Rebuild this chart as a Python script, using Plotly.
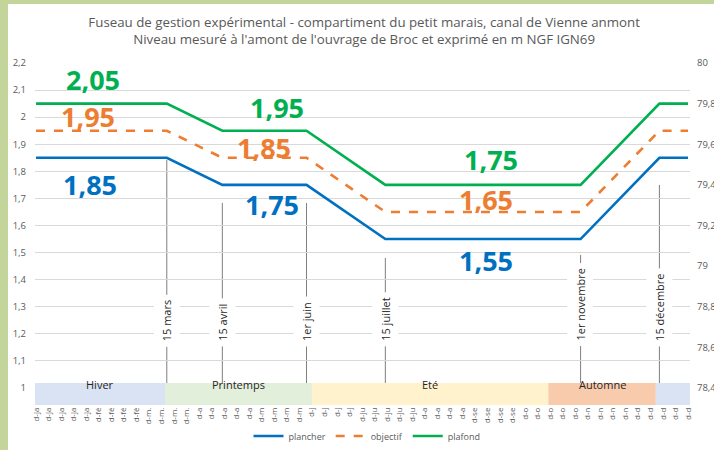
import plotly.graph_objects as go
import pandas as pd

# ---- data -------------------------------------------------------------
dates = ["2021-01-01", "2021-03-15", "2021-04-15", "2021-06-01",
         "2021-07-15", "2021-11-01", "2021-12-15", "2021-12-31"]
plafond = [2.05, 2.05, 1.95, 1.95, 1.75, 1.75, 2.05, 2.05]
objectif = [1.95, 1.95, 1.85, 1.85, 1.65, 1.65, 1.95, 1.95]
plancher = [1.85, 1.85, 1.75, 1.75, 1.55, 1.55, 1.85, 1.85]

# transition dates with their callout text
jalons = ["2021-03-15", "2021-04-15", "2021-06-01", "2021-07-15", "2021-11-01", "2021-12-15"]
jalons_txt = ["15 mars", "15 avril", "1er juin", "15 juillet", "1er novembre", "15 décembre"]

# seasons
saisons = ["Hiver", "Printemps", "Eté", "Automne", ""]
saisons_debut = ["2020-12-31 10:00", "2021-03-14", "2021-06-04", "2021-10-14", "2021-12-13"]
saisons_fin = ["2021-03-14", "2021-06-04", "2021-10-14", "2021-12-13", "2022-01-01 02:00"]
saisons_couleur = ["#dae3f3", "#e2efda", "#fff2cc", "#f8cbad", "#dae3f3"]

# weekly category ticks
semaines = ["2021-01-01", "2021-01-08", "2021-01-15", "2021-01-22", "2021-01-29",
            "2021-02-05", "2021-02-12", "2021-02-19", "2021-02-26",
            "2021-03-05", "2021-03-12", "2021-03-19", "2021-03-26",
            "2021-04-02", "2021-04-09", "2021-04-16", "2021-04-23", "2021-04-30",
            "2021-05-07", "2021-05-14", "2021-05-21", "2021-05-28",
            "2021-06-04", "2021-06-11", "2021-06-18", "2021-06-25",
            "2021-07-02", "2021-07-09", "2021-07-16", "2021-07-23", "2021-07-30",
            "2021-08-06", "2021-08-13", "2021-08-20", "2021-08-27",
            "2021-09-03", "2021-09-10", "2021-09-17", "2021-09-24",
            "2021-10-01", "2021-10-08", "2021-10-15", "2021-10-22", "2021-10-29",
            "2021-11-05", "2021-11-12", "2021-11-19", "2021-11-26",
            "2021-12-03", "2021-12-10", "2021-12-17", "2021-12-24", "2021-12-31"]
mois_abr = {"01": "ja", "02": "fé", "03": "m.", "04": "a", "05": "m",
            "06": "j", "07": "ju", "08": "a", "09": "se", "10": "o",
            "11": "n", "12": "d"}
semaines_txt = ["d-" + mois_abr[d[5:7]] for d in semaines]

gauche_ticks = [1.0, 1.1, 1.2, 1.3, 1.4, 1.5, 1.6, 1.7, 1.8, 1.9, 2.0, 2.1, 2.2]
droite_ticks = [78.4, 78.6, 78.8, 79.0, 79.2, 79.4, 79.6, 79.8, 80.0]

# ---- layout geometry (pixels) ----------------------------------------
W, H = 714, 450
L, R, T, B = 35, 690, 63, 405
Y_MIN = 1 - (B - 388) / 270.8
Y_MAX = 2.2
X_RANGE = ["2020-12-31 10:00", "2022-01-01 02:00"]


def fmt(v):
    s = f"{v:.2f}".rstrip("0").rstrip(".")
    return s.replace(".", ",")


def px_to_paper_x(p):
    return (p - L) / (R - L)


def px_to_paper_y(p):
    return (B - p) / (B - T)


def px_to_y(p):
    return 1 + (388 - p) / 270.8


BLUE, ORANGE, GREEN = "#0070c0", "#ed7d31", "#00b050"
GREY = "#595959"
FONT = "Open Sans"

fig = go.Figure()
fig.add_trace(go.Scatter(x=dates, y=plancher, name="plancher", mode="lines",
                         line=dict(color=BLUE, width=2.6)))
fig.add_trace(go.Scatter(x=dates, y=objectif, name="objectif", mode="lines",
                         line=dict(color=ORANGE, width=2.6, dash="dash")))
fig.add_trace(go.Scatter(x=dates, y=plafond, name="plafond", mode="lines",
                         line=dict(color=GREEN, width=2.6)))
# invisible trace carrying the right-hand scale
fig.add_trace(go.Scatter(x=[dates[0]], y=[79], yaxis="y2", mode="lines",
                         line=dict(width=0), showlegend=False, hoverinfo="skip"))

shapes = []
# white card on the green backdrop
shapes.append(dict(type="rect", xref="paper", yref="paper", layer="below",
                   x0=px_to_paper_x(8), x1=px_to_paper_x(W + 5),
                   y0=px_to_paper_y(H + 5), y1=px_to_paper_y(4),
                   fillcolor="white", line=dict(width=0)))
# season band
for d0, d1, c in zip(saisons_debut, saisons_fin, saisons_couleur):
    shapes.append(dict(type="rect", xref="x", yref="paper", layer="above",
                       x0=d0, x1=d1, y0=0, y1=px_to_paper_y(383),
                       fillcolor=c, line=dict(width=0)))

# callout lines
callout_top = [px_to_y(160), px_to_y(203), px_to_y(203), px_to_y(258), px_to_y(255), px_to_y(185)]
callout_bottom = px_to_y(383)
for d, top in zip(jalons, callout_top):
    shapes.append(dict(type="line", xref="x", yref="y", layer="below",
                       x0=d, x1=d, y0=top, y1=callout_bottom,
                       line=dict(color="#7f7f7f", width=1)))

annotations = []
for d, t in zip(jalons, jalons_txt):
    annotations.append(dict(x=d, y=px_to_y(347), xref="x", yref="y",
                            text=t, textangle=-90, showarrow=False,
                            yanchor="bottom", xanchor="center",
                            bgcolor="white", borderpad=5,
                            font=dict(family=FONT, size=11, color="#262626")))

for k, nom in enumerate(saisons):
    if not nom:
        continue
    t0, t1 = pd.Timestamp(saisons_debut[k]), pd.Timestamp(saisons_fin[k])
    mid = (t0 + (t1 - t0) / 2).strftime("%Y-%m-%d %H:%M")
    annotations.append(dict(x=mid, y=px_to_paper_y(394), xref="x", yref="paper",
                            text=nom, showarrow=False, xanchor="center",
                            font=dict(family=FONT, size=11, color="#262626")))

# value labels: one per plateau (winter, spring, summer) and per series
label_dates = ["2021-02-02", "2021-05-05", "2021-09-12"]
idx = [0, 2, 4]
label_offsets = {  # (xshift, yshift) in pixels for each plateau
    "plafond": [(0, 24), (19, 23), (0, 25)],
    "objectif": [(-5, 14), (6, 10), (-5, 12)],
    "plancher": [(-3, -27), (14, -20), (-5, -21)],
}
for serie, vals, col in (("plafond", plafond, GREEN), ("objectif", objectif, ORANGE),
                         ("plancher", plancher, BLUE)):
    for (d, i, (dx, dy)) in zip(label_dates, idx, label_offsets[serie]):
        annotations.append(dict(x=d, y=vals[i], xref="x", yref="y",
                                text="<b>" + fmt(vals[i]) + "</b>",
                                showarrow=False, xshift=dx, yshift=dy,
                                font=dict(family=FONT, size=27, color=col)))

fig.update_layout(
    width=W, height=H,
    margin=dict(l=L, r=W - R, t=T, b=H - B, autoexpand=False),
    paper_bgcolor="#c4d59c",
    plot_bgcolor="white",
    title=dict(text="Fuseau de gestion expérimental - compartiment du petit marais, canal de Vienne anmont"
                    "<br>Niveau mesuré à l'amont de l'ouvrage de Broc et exprimé en m NGF IGN69",
               x=0.51, xanchor="center", y=1 - 27 / H, yanchor="middle",
               font=dict(family=FONT, size=13.3, color=GREY)),
    xaxis=dict(type="date", range=X_RANGE, tickmode="array", tickvals=semaines,
               ticktext=semaines_txt, tickangle=-90, showgrid=False, zeroline=False,
               automargin=False,
               tickfont=dict(family=FONT, size=8, color=GREY), ticks=""),
    yaxis=dict(range=[Y_MIN, Y_MAX], tickmode="array", tickvals=gauche_ticks,
               ticktext=[fmt(v) for v in gauche_ticks], showgrid=True,
               gridcolor="#d9d9d9", gridwidth=1, zeroline=False, ticks="",
               automargin=False,
               tickfont=dict(family=FONT, size=9.5, color=GREY), ticklabelstandoff=8),
    yaxis2=dict(overlaying="y", side="right",
                range=[78.4 + (Y_MIN - 1) * 1.6 / 1.2, 80], tickmode="array",
                tickvals=droite_ticks, ticktext=[fmt(v) for v in droite_ticks],
                showgrid=False, zeroline=False, ticks="", automargin=False,
                tickfont=dict(family=FONT, size=9.5, color=GREY), ticklabelstandoff=6),
    legend=dict(orientation="h", x=px_to_paper_x(367), xanchor="center",
                y=px_to_paper_y(436), yanchor="middle",
                font=dict(family=FONT, size=9, color=GREY),
                itemwidth=30, bgcolor="rgba(0,0,0,0)"),
    shapes=shapes,
    annotations=annotations,
    showlegend=True,
)

fig.write_html("out.html")
